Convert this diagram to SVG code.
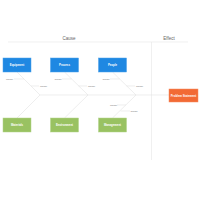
<svg xmlns="http://www.w3.org/2000/svg" width="200" height="200" viewBox="0 0 200 200">
<style>
.hdr{font-family:"Liberation Sans",Arial,sans-serif;font-size:4.5px;fill:#666;text-anchor:middle}
.nt{font-family:"Liberation Sans",Arial,sans-serif;font-size:2.8px;font-weight:bold;fill:#fff;text-anchor:middle;dominant-baseline:central}
.lb{font-family:"Liberation Sans",Arial,sans-serif;font-size:2.5px;fill:#777;dominant-baseline:central}
.ln{stroke:#e6e6e6;stroke-width:0.6;fill:none}
.bone{stroke:#e3e3e3;stroke-width:0.6;fill:none}
.blue{fill:#1f88e2;stroke:#4aa0ea;stroke-width:0.5}
.green{fill:#99c262;stroke:#b2d48a;stroke-width:0.5}
.orange{fill:#f26a35;stroke:#f68c62;stroke-width:0.5}
</style>
<rect width="200" height="200" fill="#fff"/>
<g id="frame">
<line class="ln" x1="8" y1="42" x2="188" y2="42"/>
<line class="ln" x1="151.5" y1="42" x2="151.5" y2="160"/>
<text class="hdr" x="69" y="40">Cause</text>
<text class="hdr" x="169" y="40">Effect</text>
</g>
<g id="connectors">
<line class="bone" x1="40" y1="95" x2="169" y2="95"/>
<line class="bone" x1="17" y1="72" x2="40" y2="95"/>
<line class="bone" x1="64.5" y1="72" x2="88" y2="95"/>
<line class="bone" x1="112.5" y1="72" x2="136" y2="95"/>
<line class="bone" x1="17" y1="118" x2="40" y2="95"/>
<line class="bone" x1="64.5" y1="118" x2="88" y2="95"/>
<line class="bone" x1="112.5" y1="118" x2="136" y2="95"/>
<line class="bone" x1="14" y1="79" x2="24" y2="79"/>
<line class="bone" x1="31" y1="86" x2="39" y2="86"/>
<line class="bone" x1="62" y1="79" x2="71.5" y2="79"/>
<line class="bone" x1="78.5" y1="86" x2="87" y2="86"/>
<line class="bone" x1="110" y1="79" x2="119.5" y2="79"/>
<line class="bone" x1="126.5" y1="86" x2="135" y2="86"/>
<line class="bone" x1="117" y1="105" x2="126" y2="105"/>
<line class="bone" x1="120.5" y1="111" x2="130" y2="111"/>
<text class="lb" x="6" y="79">Cause</text>
<text class="lb" x="40" y="86">Cause</text>
<text class="lb" x="54.5" y="79">Cause</text>
<text class="lb" x="88" y="86">Cause</text>
<text class="lb" x="102.5" y="79">Cause</text>
<text class="lb" x="136" y="86">Cause</text>
<text class="lb" x="110" y="105">Cause</text>
<text class="lb" x="130.5" y="111">Cause</text>
</g>
<g id="n1"><rect class="blue" x="3" y="58" width="28" height="14"/><text class="nt" x="17" y="65">Equipment</text></g>
<g id="n2"><rect class="blue" x="50.5" y="58" width="28" height="14"/><text class="nt" x="64.5" y="65">Process</text></g>
<g id="n3"><rect class="blue" x="98.5" y="58" width="28" height="14"/><text class="nt" x="112.5" y="65">People</text></g>
<g id="n4"><rect class="green" x="3" y="118" width="28" height="14"/><text class="nt" x="17" y="125">Materials</text></g>
<g id="n5"><rect class="green" x="50.5" y="118" width="28" height="14"/><text class="nt" x="64.5" y="125">Environment</text></g>
<g id="n6"><rect class="green" x="98.5" y="118" width="28" height="14"/><text class="nt" x="112.5" y="125">Management</text></g>
<g id="n7"><rect class="orange" x="169" y="89" width="29" height="13"/><text class="nt" x="183.5" y="95.5">Problem Statement</text></g>
</svg>
